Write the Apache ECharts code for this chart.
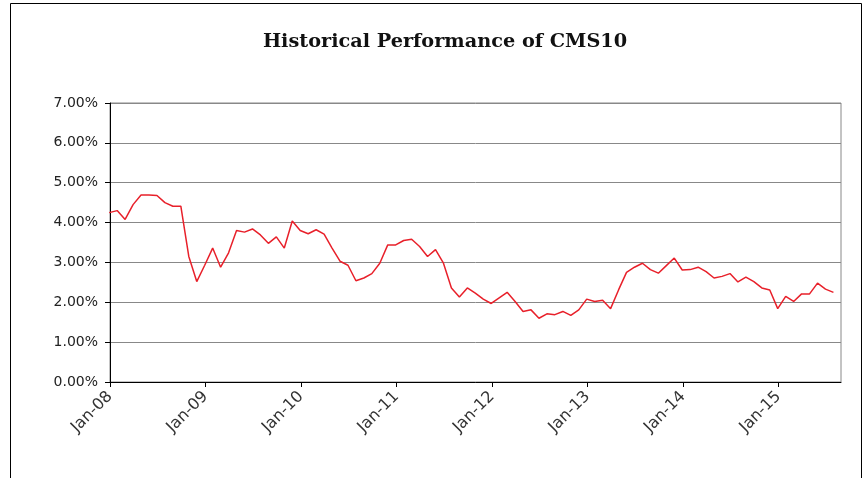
<!DOCTYPE html>
<html>
<head>
<meta charset="utf-8">
<script src="https://cdn.jsdelivr.net/npm/echarts@6/dist/echarts.min.js"></script>
<style>
html,body{margin:0;padding:0;background:#fff;}
#chart{width:866px;height:478px;}
</style>
</head>
<body>
<div id="chart"></div>
<script>
// Month labels of the observations (Dec-07 .. Jul-15)
const months = [
  'Dec-07',
  'Jan-08','Feb-08','Mar-08','Apr-08','May-08','Jun-08','Jul-08','Aug-08','Sep-08','Oct-08','Nov-08','Dec-08',
  'Jan-09','Feb-09','Mar-09','Apr-09','May-09','Jun-09','Jul-09','Aug-09','Sep-09','Oct-09','Nov-09','Dec-09',
  'Jan-10','Feb-10','Mar-10','Apr-10','May-10','Jun-10','Jul-10','Aug-10','Sep-10','Oct-10','Nov-10','Dec-10',
  'Jan-11','Feb-11','Mar-11','Apr-11','May-11','Jun-11','Jul-11','Aug-11','Sep-11','Oct-11','Nov-11','Dec-11',
  'Jan-12','Feb-12','Mar-12','Apr-12','May-12','Jun-12','Jul-12','Aug-12','Sep-12','Oct-12','Nov-12','Dec-12',
  'Jan-13','Feb-13','Mar-13','Apr-13','May-13','Jun-13','Jul-13','Aug-13','Sep-13','Oct-13','Nov-13','Dec-13',
  'Jan-14','Feb-14','Mar-14','Apr-14','May-14','Jun-14','Jul-14','Aug-14','Sep-14','Oct-14','Nov-14','Dec-14',
  'Jan-15','Feb-15','Mar-15','Apr-15','May-15','Jun-15','Jul-15'
];
// CMS10 rate, percent
const cms10 = [
  4.25,
  4.30,4.08,4.45,4.69,4.69,4.68,4.50,4.41,4.41,3.15,2.52,2.93,
  3.36,2.88,3.24,3.80,3.76,3.84,3.69,3.48,3.64,3.36,4.04,3.80,
  3.72,3.82,3.71,3.36,3.03,2.93,2.54,2.61,2.72,2.98,3.44,3.44,
  3.55,3.58,3.40,3.15,3.32,2.98,2.36,2.13,2.36,2.23,2.08,1.97,
  2.11,2.25,2.02,1.77,1.81,1.60,1.71,1.69,1.77,1.67,1.81,2.08,
  2.02,2.05,1.84,2.31,2.75,2.88,2.98,2.82,2.73,2.92,3.11,2.81,
  2.82,2.88,2.77,2.61,2.65,2.72,2.51,2.63,2.52,2.36,2.31,1.84,
  2.15,2.02,2.21,2.21,2.48,2.33,2.25
];
// Axis tick labels (one per January)
const yearTicks = ['Jan-08','Jan-09','Jan-10','Jan-11','Jan-12','Jan-13','Jan-14','Jan-15'];

// Observations are dated late in each month; x measured in months from 1 Jan 2008
const DAY_FRACTION = 0.9;
const AXIS_END = 91.85; // end of the date axis (late Aug 2015)
const monthIndex = m => {
  const mm = ['Jan','Feb','Mar','Apr','May','Jun','Jul','Aug','Sep','Oct','Nov','Dec'].indexOf(m.slice(0,3));
  const yy = parseInt(m.slice(4), 10);
  return (yy - 8) * 12 + mm;
};
const seriesData = months.map((m, i) => [monthIndex(m) + DAY_FRACTION, cms10[i]]);
const tickPos = yearTicks.map(monthIndex);

const chart = echarts.init(document.getElementById('chart'), null, {renderer: 'canvas'});
chart.setOption({
  animation: false,
  backgroundColor: '#fff',
  graphic: [{
    type: 'rect', silent: true, z: -1,
    shape: {x: 10.5, y: 3.5, width: 851, height: 490},
    style: {fill: 'none', stroke: '#000', lineWidth: 1}
  }, {
    type: 'text', silent: true,
    x: 445, y: 42, scaleX: 1.07,
    style: {
      text: 'Historical Performance of CMS10',
      fontFamily: 'DejaVu Serif', fontWeight: 'bold', fontSize: 18, fill: '#111',
      textAlign: 'center', textVerticalAlign: 'middle'
    }
  }],
  grid: {left: 110, right: 25, top: 103, bottom: 96, show: true, borderColor: '#888', borderWidth: 1},
  xAxis: {
    type: 'value', min: 0, max: AXIS_END,
    axisLine: {show: true, onZero: false, lineStyle: {color: '#000', width: 1}},
    axisTick: {show: true, length: 5, customValues: tickPos, lineStyle: {color: '#000'}},
    axisLabel: {
      customValues: tickPos, rotate: 45, margin: 12,
      fontFamily: 'DejaVu Sans', fontSize: 16, color: '#333',
      formatter: v => yearTicks[tickPos.indexOf(v)] || ''
    },
    splitLine: {show: false}
  },
  yAxis: {
    type: 'value', min: 0, max: 7, interval: 1,
    axisLine: {show: true, lineStyle: {color: '#000', width: 1}},
    axisTick: {show: true, length: 5, lineStyle: {color: '#000'}},
    axisLabel: {fontFamily: 'DejaVu Sans', fontSize: 14, color: '#222', margin: 12,
      formatter: v => v.toFixed(2) + '%'},
    splitLine: {show: true, lineStyle: {color: '#888', width: 1}}
  },
  series: [{
    type: 'line', data: seriesData, showSymbol: false, clip: true,
    lineStyle: {color: '#e8202a', width: 1.5}, itemStyle: {color: '#e8202a'}
  }]
});
</script>
</body>
</html>
